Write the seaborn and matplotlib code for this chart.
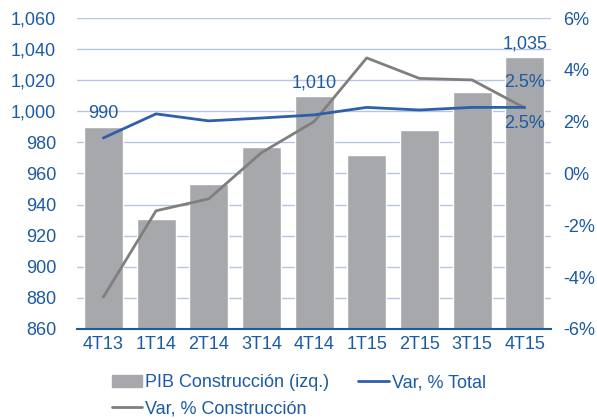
import numpy as np
import pandas as pd
import matplotlib.pyplot as plt
import seaborn as sb
from matplotlib.patches import Patch
from matplotlib.lines import Line2D
from matplotlib.ticker import FuncFormatter, FixedLocator

# datos
trimestres = ["4T13", "1T14", "2T14", "3T14", "4T14", "1T15", "2T15", "3T15", "4T15"]
pib_construccion = [990, 930.5, 953, 977, 1010, 972, 988, 1012.5, 1035]
var_total = [1.37, 2.3, 2.03, 2.14, 2.26, 2.55, 2.45, 2.55, 2.55]
var_construccion = [-4.77, -1.44, -0.98, 0.8, 2.0, 4.46, 3.67, 3.61, 2.53]
etiquetas_barras = {0: "990", 4: "1,010", 8: "1,035"}

azul_texto = "#1C5AA3"
gris_barra = "#A7A8AC"
gris_linea = "#7F7F7F"
azul_linea = "#2F5FA8"
color_grid = "#B9C3E6"
fs = 13

df = pd.DataFrame({"trimestre": trimestres, "pib": pib_construccion,
                   "total": var_total, "constr": var_construccion})

sb.set_style("white")
plt.rcParams["font.family"] = ["Liberation Sans", "DejaVu Sans"]

fig = plt.figure(figsize=(5.97, 4.19), dpi=100)
ax = fig.add_axes([0.129, 0.215, 0.794, 0.742])

sb.barplot(data=df, x="trimestre", y="pib", color=gris_barra, width=0.74,
           saturation=1, ax=ax, zorder=2)
ax.set_ylim(860, 1060)
ax.set_yticks(np.arange(860, 1061, 20))
ax.yaxis.set_major_formatter(FuncFormatter(lambda v, p: f"{int(v):,}"))
ax.grid(axis="y", color=color_grid, linewidth=1, zorder=0)
ax.set_axisbelow(True)
ax.set_xlabel("")
ax.set_ylabel("")
ax.set_xlim(-0.5, 8.5)
for s in ["top", "left", "right"]:
    ax.spines[s].set_visible(False)
ax.spines["bottom"].set_color(azul_texto)
ax.spines["bottom"].set_linewidth(1.5)
ax.tick_params(axis="y", length=0, labelsize=fs, labelcolor=azul_texto, pad=15)
ax.tick_params(axis="x", which="major", length=0, labelsize=fs,
               labelcolor=azul_texto, pad=5)
ax.xaxis.set_minor_locator(FixedLocator(np.arange(-0.5, 9, 1)))
ax.tick_params(axis="x", which="minor", length=5, width=1.5, color=azul_texto)

for i, txt in etiquetas_barras.items():
    ax.text(i, pib_construccion[i] + 3, txt, ha="center", va="bottom",
            fontsize=fs, color=azul_texto)

ax2 = ax.twinx()
sb.lineplot(data=df, x="trimestre", y="constr", color=gris_linea, linewidth=2, ax=ax2)
sb.lineplot(data=df, x="trimestre", y="total", color=azul_linea, linewidth=2, ax=ax2)
ax2.set_ylim(-6, 6)
ax2.set_yticks(np.arange(-6, 7, 2))
ax2.yaxis.set_major_formatter(FuncFormatter(lambda v, p: f"{int(v)}%"))
ax2.tick_params(axis="y", length=0, labelsize=fs, labelcolor=azul_texto, pad=9)
ax2.set_ylabel("")
ax2.set_xlabel("")
ax2.grid(False)
for s in ["top", "left", "right", "bottom"]:
    ax2.spines[s].set_visible(False)

ax2.text(8.0, var_construccion[-1] + 0.65, "2.5%", ha="center", va="bottom",
         fontsize=fs, color=azul_texto)
ax2.text(8.0, var_total[-1] - 0.3, "2.5%", ha="center", va="top",
         fontsize=fs, color=azul_texto)

handles = [Patch(color=gris_barra),
           Line2D([], [], color=gris_linea, linewidth=2),
           Line2D([], [], color=azul_linea, linewidth=2)]
labels = ["PIB Construcción (izq.)", "Var, % Construcción", "Var, % Total"]
leg = fig.legend(handles, labels, loc="lower left", bbox_to_anchor=(0.16, -0.035),
                 ncol=2, frameon=False, fontsize=fs, handlelength=1.7,
                 handletextpad=0.15, columnspacing=1.6, labelspacing=0.5)
for t in leg.get_texts():
    t.set_color(azul_texto)

fig.savefig("out.png", dpi=100)
